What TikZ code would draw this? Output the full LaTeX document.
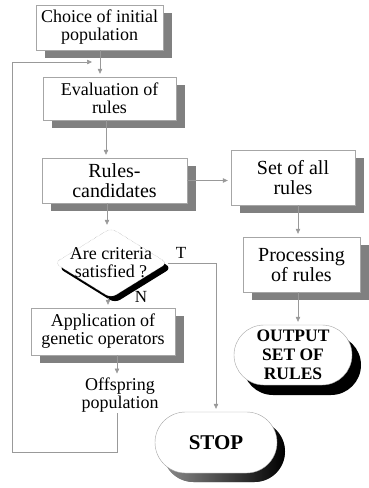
\documentclass[tikz,border=0pt]{standalone}
\usepackage{fontspec}
\setmainfont{Liberation Serif}
\usetikzlibrary{shapes.geometric,shapes.misc,shadows,arrows.meta}
\begin{document}
\begin{tikzpicture}[x=1pt,y=-1pt,
  box/.style={draw=black!35, fill=white, align=center, inner sep=0pt,
     drop shadow={shadow xshift=9pt, shadow yshift=-8pt, fill=black!50, opacity=1}},
  f18/.style={font=\fontsize{18}{18}\selectfont},
  f20/.style={font=\fontsize{20}{20}\selectfont},
  line/.style={draw=black!40, line width=0.6pt},
  arr/.style={line, -{Triangle[length=5pt,width=4.5pt]}, shorten >=3pt}
]
\useasboundingbox (0,0) rectangle (368,488);
\node[box,f18,minimum width=127pt,minimum height=45pt] (b1) at (99.5,27.5) {Choice of initial\\population};
\node[box,f18,minimum width=133pt,minimum height=43pt] (b2) at (109.5,98.5) {Evaluation of\\rules};
\node[box,f20,minimum width=145pt,minimum height=45pt] (b3) at (114.5,180.5) {Rules-\\candidates};
\node[box,f20,minimum width=124pt,minimum height=55pt] (set) at (293,177.5) {Set of all\\rules};
\node[box,f20,minimum width=117pt,minimum height=55pt] (proc) at (301.5,264.5) {Processing\\of rules};
\node[diamond, draw=black!40, densely dotted, fill=white, rounded corners=6pt, inner sep=0pt,
  minimum width=113pt, minimum height=70pt,
  drop shadow={shadow xshift=4pt, shadow yshift=-5pt, fill=black, opacity=1}] (dia) at (111,263) {};
\node[f18, align=center, inner sep=0pt] (diat) at (111,263) {Are criteria\\satisfied ?};
\node[box,f18,minimum width=144pt,minimum height=47pt] (app) at (103,331.5) {Application of\\genetic operators};
\node[f18, align=center, inner sep=1pt] (off) at (120,395) {Offspring\\population};
\node[rounded rectangle, draw=black!35, fill=white, inner sep=0pt, align=center,
  minimum width=118pt, minimum height=60pt,
  font=\fontsize{17.5}{19}\selectfont\bfseries,
  drop shadow={shadow xshift=9pt, shadow yshift=-10pt, fill=black, opacity=1}] (out) at (293,355) {OUTPUT\\SET OF\\RULES};
\node[rounded rectangle, draw=black!35, fill=white, inner sep=0pt,
  minimum width=122pt, minimum height=61pt,
  font=\fontsize{21}{21}\selectfont\bfseries,
  drop shadow={shadow xshift=8pt, shadow yshift=-9pt, left color=black!45, right color=black, opacity=1}] (stop) at (216,442.5) {STOP};
\node[font=\fontsize{17}{17}\selectfont] (tl) at (181,253) {T};
\node[font=\fontsize{17}{17}\selectfont] (nl) at (141,297) {N};
\coordinate (fb1) at (12,452);
\coordinate (fb2) at (12,62);
\coordinate (fb3) at (95,62);
\draw[arr] (100,0 |- b1.south) -- (100,0 |- b2.north);
\draw[arr] (106,0 |- b2.south) -- (106,0 |- b3.north);
\draw[arr] (107,0 |- b3.south) -- (107,0 |- dia.north);
\draw[arr] (108,0 |- dia.south) -- (108,0 |- app.north);
\draw[arr] (117,0 |- app.south) -- (117,0 |- off.north);
\draw[line] (117,0 |- off.south) |- (fb1) -- (fb2);
\draw[arr] (fb2) -- (fb3);
\draw[arr] (b3.east) -- (b3.east -| set.west);
\draw[arr] (298,0 |- set.south) -- (298,0 |- proc.north);
\draw[arr] (298,0 |- proc.south) -- (298,0 |- out.north);
\draw[arr] (dia.east) -| (stop.north);
\end{tikzpicture}
\end{document}
